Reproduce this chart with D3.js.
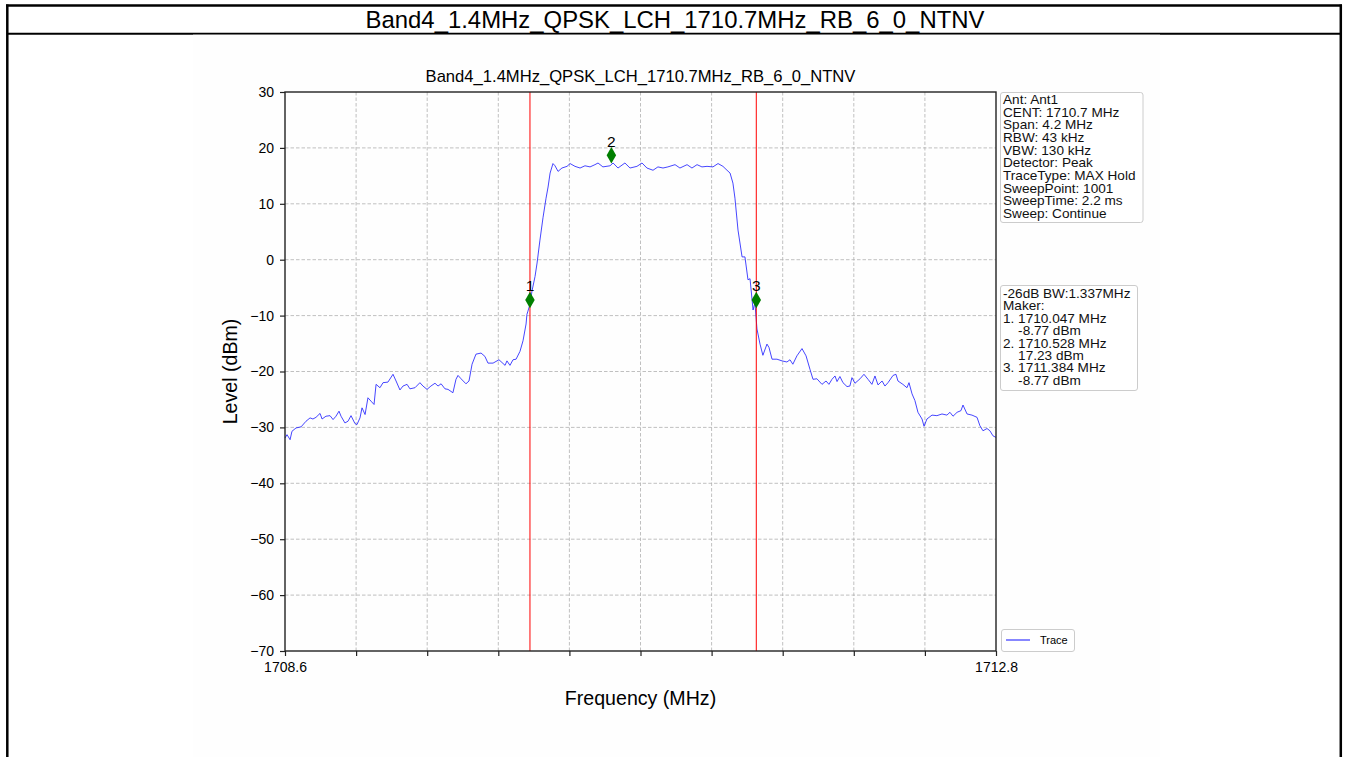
<!DOCTYPE html>
<html>
<head>
<meta charset="utf-8">
<script src="https://cdn.jsdelivr.net/npm/d3@7"></script>
<style>
  html, body { margin: 0; padding: 0; background: #ffffff; }
  svg { display: block; font-family: "Liberation Sans", Arial, sans-serif; }
  .info text { white-space: pre; }
</style>
</head>
<body>
<svg id="chart" width="1348" height="757"></svg>
<script>
// ---------------- DATA ----------------
const pageTitle = "Band4_1.4MHz_QPSK_LCH_1710.7MHz_RB_6_0_NTNV";
const chartTitle = "Band4_1.4MHz_QPSK_LCH_1710.7MHz_RB_6_0_NTNV";
const xLabel = "Frequency (MHz)";
const yLabel = "Level (dBm)";

const traceFreq = [
  1708.600, 1708.612, 1708.630, 1708.641, 1708.665, 1708.695, 1708.724, 1708.748, 1708.765, 1708.783,
  1708.807, 1708.819, 1708.842, 1708.866, 1708.884, 1708.901, 1708.919, 1708.931, 1708.954, 1708.972,
  1708.990, 1709.013, 1709.025, 1709.043, 1709.055, 1709.073, 1709.090, 1709.108, 1709.126, 1709.138,
  1709.161, 1709.179, 1709.208, 1709.238, 1709.256, 1709.279, 1709.297, 1709.321, 1709.338, 1709.368,
  1709.397, 1709.415, 1709.439, 1709.462, 1709.486, 1709.504, 1709.522, 1709.545, 1709.563, 1709.592,
  1709.610, 1709.622, 1709.640, 1709.669, 1709.687, 1709.705, 1709.728, 1709.758, 1709.781, 1709.799,
  1709.829, 1709.864, 1709.900, 1709.911, 1709.929, 1709.947, 1709.965, 1709.988, 1710.006, 1710.024,
  1710.029, 1710.035, 1710.047, 1710.059, 1710.077, 1710.089, 1710.106, 1710.124, 1710.142, 1710.154,
  1710.166, 1710.183, 1710.195, 1710.213, 1710.236, 1710.266, 1710.284, 1710.313, 1710.343, 1710.372,
  1710.402, 1710.431, 1710.449, 1710.478, 1710.520, 1710.538, 1710.567, 1710.608, 1710.638, 1710.679,
  1710.709, 1710.738, 1710.774, 1710.803, 1710.833, 1710.862, 1710.904, 1710.933, 1710.975, 1711.004,
  1711.034, 1711.063, 1711.093, 1711.128, 1711.158, 1711.187, 1711.211, 1711.229, 1711.246, 1711.258,
  1711.276, 1711.300, 1711.317, 1711.335, 1711.347, 1711.365, 1711.376, 1711.388, 1711.406, 1711.423,
  1711.447, 1711.459, 1711.477, 1711.506, 1711.536, 1711.565, 1711.583, 1711.600, 1711.624, 1711.654,
  1711.678, 1711.701, 1711.719, 1711.742, 1711.772, 1711.796, 1711.813, 1711.831, 1711.849, 1711.861,
  1711.878, 1711.896, 1711.920, 1711.937, 1711.949, 1711.967, 1711.997, 1712.020, 1712.044, 1712.067,
  1712.085, 1712.103, 1712.127, 1712.144, 1712.162, 1712.192, 1712.209, 1712.221, 1712.250, 1712.274,
  1712.286, 1712.304, 1712.321, 1712.339, 1712.363, 1712.375, 1712.392, 1712.422, 1712.451, 1712.481,
  1712.510, 1712.528, 1712.546, 1712.570, 1712.593, 1712.605, 1712.629, 1712.658, 1712.688, 1712.705,
  1712.723, 1712.747, 1712.764, 1712.782, 1712.800
];
const traceLevel = [
  -31.9, -31.3, -32.2, -30.7, -30.1, -29.9, -28.9, -28.3, -28.5, -28.2,
  -27.5, -28.5, -28.0, -27.9, -28.6, -28.0, -27.1, -28.0, -29.2, -28.9,
  -27.9, -29.3, -29.5, -28.3, -26.5, -27.7, -24.7, -25.3, -25.9, -22.3,
  -22.9, -22.0, -21.9, -20.5, -21.7, -23.3, -22.6, -22.3, -23.1, -22.9,
  -22.0, -22.6, -23.2, -22.6, -22.1, -22.6, -22.2, -23.1, -23.2, -23.8,
  -21.4, -20.7, -21.3, -22.2, -21.7, -18.7, -16.9, -16.7, -17.3, -18.5,
  -18.5, -17.9, -18.9, -18.1, -18.9, -17.9, -17.8, -16.4, -14.5, -11.5,
  -9.8, -9.2, -8.0, -5.6, -3.0, -0.6, 3.5, 7.5, 11.0, 13.0,
  15.5, 17.2, 16.8, 15.8, 16.4, 16.7, 17.2, 16.7, 16.4, 16.8,
  16.6, 17.0, 17.3, 16.6, 16.8, 17.3, 16.4, 17.3, 16.4, 16.7,
  17.3, 16.4, 16.0, 16.6, 16.4, 16.6, 17.0, 16.4, 17.0, 16.4,
  17.0, 16.6, 16.7, 16.6, 17.2, 16.7, 16.0, 15.5, 13.7, 11.0,
  5.3, 0.5, 0.5, -3.6, -3.4, -9.0, -7.7, -12.4, -15.1, -17.1,
  -15.1, -15.7, -17.8, -17.8, -18.1, -18.3, -17.9, -18.7, -17.2, -15.9,
  -17.2, -19.6, -21.4, -21.3, -22.3, -21.7, -22.3, -21.4, -20.8, -21.8,
  -20.9, -22.0, -22.7, -22.6, -21.1, -22.1, -21.3, -20.5, -21.4, -22.3,
  -20.8, -22.4, -21.7, -22.6, -22.0, -20.7, -20.5, -21.7, -22.3, -22.9,
  -22.0, -24.0, -25.2, -27.3, -28.5, -29.8, -28.5, -27.8, -27.9, -27.6,
  -27.8, -27.3, -28.0, -27.3, -27.0, -26.0, -27.6, -27.8, -28.2, -29.7,
  -30.6, -30.2, -30.6, -31.5, -31.8
];

const markerIds = ["1", "2", "3"];
const markerFreq = [1710.047, 1710.528, 1711.384];
const markerPlotLevel = [-7.2, 18.7, -7.2];
const bwLineFreq = [1710.047, 1711.384];

const xDomain = [1708.6, 1712.8];
const yDomain = [-70, 30];
const xTicks = [1708.6, 1709.02, 1709.44, 1709.86, 1710.28, 1710.7, 1711.12, 1711.54, 1711.96, 1712.38, 1712.8];
const xTickLabels = ["1708.6", "", "", "", "", "", "", "", "", "", "1712.8"];
const yTicks = [-70, -60, -50, -40, -30, -20, -10, 0, 10, 20, 30];

const settingsLines = [
  "Ant: Ant1", "CENT: 1710.7 MHz", "Span: 4.2 MHz", "RBW: 43 kHz", "VBW: 130 kHz",
  "Detector: Peak", "TraceType: MAX Hold", "SweepPoint: 1001", "SweepTime: 2.2 ms", "Sweep: Continue"
];
const markerLines = [
  "-26dB BW:1.337MHz", "Maker:", "1. 1710.047 MHz", "    -8.77 dBm", "2. 1710.528 MHz",
  "    17.23 dBm", "3. 1711.384 MHz", "    -8.77 dBm"
];
const legendLabel = "Trace";

// ---------------- DRAW ----------------
const svg = d3.select("#chart");
const W = 1348, H = 757;
const plot = { left: 285, right: 996, top: 92, bottom: 651 };

// page frame
svg.append("rect").attr("x", 0).attr("y", 0).attr("width", W).attr("height", H).attr("fill", "#ffffff");
svg.append("line").attr("x1", 6).attr("x2", 1342).attr("y1", 5.5).attr("y2", 5.5).attr("stroke", "#000").attr("stroke-width", 2.5);
svg.append("line").attr("x1", 7.3).attr("x2", 7.3).attr("y1", 4.5).attr("y2", H).attr("stroke", "#000").attr("stroke-width", 2.5);
svg.append("line").attr("x1", 1340.8).attr("x2", 1340.8).attr("y1", 4.5).attr("y2", H).attr("stroke", "#000").attr("stroke-width", 2.5);
svg.append("line").attr("x1", 7).attr("x2", 1341).attr("y1", 33.7).attr("y2", 33.7).attr("stroke", "#000").attr("stroke-width", 2);
svg.append("text").attr("x", 675).attr("y", 28).attr("text-anchor", "middle")
  .attr("font-size", 23.9).attr("fill", "#000").text(pageTitle);

// chart image background
svg.append("rect").attr("x", 193).attr("y", 34.7).attr("width", 967).attr("height", H - 34.7).attr("fill", "#fefefe");

const x = d3.scaleLinear().domain(xDomain).range([plot.left, plot.right]);
const y = d3.scaleLinear().domain(yDomain).range([plot.bottom, plot.top]);

// grid
const grid = svg.append("g").attr("stroke", "#b0b0b0").attr("stroke-width", 0.8).attr("stroke-dasharray", "3.5,2");
grid.selectAll("line.gx").data(xTicks.slice(1, -1)).join("line")
  .attr("x1", d => x(d)).attr("x2", d => x(d)).attr("y1", plot.top).attr("y2", plot.bottom);
grid.selectAll("line.gy").data(yTicks.slice(1, -1)).join("line")
  .attr("x1", plot.left).attr("x2", plot.right).attr("y1", d => y(d)).attr("y2", d => y(d));

// trace
const pts = traceFreq.map((f, i) => [f, traceLevel[i]]);
svg.append("path").datum(pts)
  .attr("fill", "none").attr("stroke", "#2626ff").attr("stroke-opacity", 0.85).attr("stroke-width", 1)
  .attr("stroke-linejoin", "round")
  .attr("d", d3.line().x(d => x(d[0])).y(d => y(d[1])));

// bandwidth lines
svg.selectAll("line.bw").data(bwLineFreq).join("line").attr("class", "bw")
  .attr("x1", d => x(d)).attr("x2", d => x(d)).attr("y1", plot.top).attr("y2", plot.bottom)
  .attr("stroke", "#ff0000").attr("stroke-width", 1);

// markers
const mk = svg.append("g");
markerIds.forEach((id, i) => {
  const cx = x(markerFreq[i]), cy = y(markerPlotLevel[i]);
  mk.append("path").attr("d", d3.symbol(d3.symbolDiamond, 78)())
    .attr("transform", `translate(${cx},${cy})`).attr("fill", "#007f00");
  mk.append("text").attr("x", cx).attr("y", cy - 8.5).attr("text-anchor", "middle")
    .attr("font-size", 15.5).attr("fill", "#000").text(id);
});

// frame
svg.append("rect").attr("x", plot.left).attr("y", plot.top)
  .attr("width", plot.right - plot.left).attr("height", plot.bottom - plot.top)
  .attr("fill", "none").attr("stroke", "#222").attr("stroke-width", 1.4);

// axes
const xAxis = d3.axisBottom(x).tickValues(xTicks).tickSize(5).tickSizeOuter(0).tickPadding(6)
  .tickFormat((d, i) => xTickLabels[i]);
const gx = svg.append("g").attr("transform", `translate(0,${plot.bottom})`).call(xAxis);
gx.select(".domain").remove();
gx.selectAll("line").attr("stroke", "#222").attr("stroke-width", 1.2);
gx.selectAll("text").attr("font-size", 14).attr("fill", "#000").attr("font-family", "Liberation Sans, Arial, sans-serif");

const yAxis = d3.axisLeft(y).tickValues(yTicks).tickSize(5).tickSizeOuter(0).tickPadding(6)
  .tickFormat(d3.format("d"));
const gy = svg.append("g").attr("transform", `translate(${plot.left},0)`).call(yAxis);
gy.select(".domain").remove();
gy.selectAll("line").attr("stroke", "#222").attr("stroke-width", 1.2);
gy.selectAll("text").attr("font-size", 14).attr("fill", "#000").attr("font-family", "Liberation Sans, Arial, sans-serif");

// titles
svg.append("text").attr("x", (plot.left + plot.right) / 2).attr("y", 82).attr("text-anchor", "middle")
  .attr("font-size", 16.6).attr("fill", "#000").text(chartTitle);
svg.append("text").attr("x", (plot.left + plot.right) / 2).attr("y", 705).attr("text-anchor", "middle")
  .attr("font-size", 19.6).attr("fill", "#000").text(xLabel);
svg.append("text").attr("transform", `translate(237,${(plot.top + plot.bottom) / 2}) rotate(-90)`)
  .attr("text-anchor", "middle").attr("font-size", 19.6).attr("fill", "#000").text(yLabel);

// info boxes (one multi-line text per box)
function infoBox(lines, bx, by, bw, bh, firstBase, step) {
  const g = svg.append("g").attr("class", "info");
  g.append("rect").attr("x", bx).attr("y", by).attr("width", bw).attr("height", bh)
    .attr("rx", 2.5).attr("fill", "#ffffff").attr("stroke", "#cccccc").attr("stroke-width", 1);
  const t = g.append("text").attr("x", bx + 2.5).attr("y", firstBase)
    .attr("font-size", 13.6).attr("fill", "#111");
  t.selectAll("tspan").data(lines).join("tspan")
    .attr("x", bx + 2.5).attr("dy", (d, i) => i === 0 ? 0 : step).text(d => d);
}
infoBox(settingsLines, 1000.5, 92.5, 142.5, 130, 104, 12.65);
infoBox(markerLines, 1000.5, 285.5, 137, 105, 298, 12.4);

// legend
const lg = svg.append("g");
lg.append("rect").attr("x", 1001.5).attr("y", 629.5).attr("width", 73).attr("height", 22)
  .attr("rx", 2.5).attr("fill", "#ffffff").attr("stroke", "#cccccc").attr("stroke-width", 1);
lg.append("line").attr("x1", 1006).attr("x2", 1030).attr("y1", 640).attr("y2", 640)
  .attr("stroke", "#2626ff").attr("stroke-opacity", 0.85).attr("stroke-width", 1.3);
lg.append("text").attr("x", 1040).attr("y", 644).attr("font-size", 11).attr("fill", "#000").text(legendLabel);
</script>
</body>
</html>
